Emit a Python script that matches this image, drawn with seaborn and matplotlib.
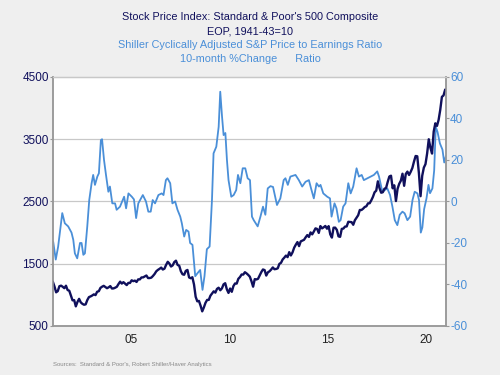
import numpy as np
import pandas as pd
import matplotlib
matplotlib.use('Agg')
import matplotlib.pyplot as plt
import seaborn as sns

# --- Data ---
# S&P 500, end of month, Jul 2001 .. Jun 2021
sp500 = [
    1211, 1134, 1041, 1060, 1139, 1148,
    1130, 1107, 1147, 1077, 1067, 990, 912, 916, 815, 886, 936, 880,
    856, 841, 848, 917, 964, 975, 990, 1008, 996, 1051, 1058, 1112,
    1131, 1145, 1126, 1107, 1121, 1141, 1102, 1104, 1115, 1130, 1174, 1212,
    1181, 1204, 1181, 1157, 1192, 1191, 1234, 1220, 1229, 1207, 1249, 1248,
    1280, 1281, 1295, 1311, 1270, 1270, 1277, 1304, 1336, 1378, 1401, 1418,
    1438, 1407, 1421, 1482, 1531, 1503, 1455, 1474, 1527, 1549, 1481, 1468,
    1379, 1331, 1323, 1386, 1400, 1280, 1267, 1283, 1166, 969, 896, 903,
    826, 735, 798, 873, 919, 919, 987, 1021, 1057, 1036, 1096, 1115,
    1074, 1104, 1169, 1187, 1089, 1031, 1102, 1049, 1141, 1183, 1181, 1258,
    1286, 1327, 1326, 1364, 1345, 1321, 1292, 1219, 1131, 1253, 1247, 1258,
    1312, 1366, 1408, 1398, 1310, 1362, 1379, 1407, 1441, 1412, 1416, 1426,
    1498, 1515, 1569, 1598, 1631, 1606, 1686, 1633, 1682, 1757, 1806, 1848,
    1783, 1859, 1872, 1884, 1924, 1960, 1931, 2003, 1972, 2018, 2068, 2059,
    1995, 2105, 2068, 2086, 2107, 2063, 2104, 1972, 1920, 2079, 2080, 2044,
    1940, 1932, 2060, 2065, 2097, 2099, 2174, 2171, 2168, 2126, 2199, 2239,
    2279, 2364, 2363, 2384, 2412, 2423, 2470, 2472, 2519, 2575, 2648, 2674,
    2824, 2714, 2641, 2648, 2705, 2718, 2816, 2902, 2914, 2712, 2760, 2507,
    2704, 2784, 2834, 2946, 2752, 2942, 2980, 2926, 2977, 3038, 3141, 3231,
    3226, 2954, 2585, 2912, 3044, 3100, 3271, 3500, 3363, 3270, 3622, 3756,
    3714, 3811, 3973, 4181, 4204, 4298,
]

# Shiller CAPE, 10-month % change
cape_years = [
    2001.56, 2001.69, 2001.81, 2002.02, 2002.15, 2002.32, 2002.49, 2002.58,
    2002.66, 2002.78, 2002.92, 2003.00, 2003.09, 2003.17, 2003.29, 2003.39,
    2003.51, 2003.59, 2003.68, 2003.80, 2003.88, 2003.98, 2004.04, 2004.14,
    2004.24, 2004.36, 2004.44, 2004.56, 2004.70, 2004.78, 2004.95, 2005.16,
    2005.26, 2005.38, 2005.55, 2005.66, 2005.77, 2005.88, 2006.11, 2006.27,
    2006.39, 2006.51, 2006.61, 2006.73, 2006.90, 2007.07, 2007.16, 2007.28,
    2007.36, 2007.50, 2007.61, 2007.75, 2007.87, 2008.01, 2008.09, 2008.21,
    2008.31, 2008.43, 2008.51, 2008.63, 2008.77, 2008.89, 2009.02, 2009.14,
    2009.24, 2009.36, 2009.50, 2009.62, 2009.70, 2009.84, 2009.96, 2010.04,
    2010.13, 2010.21, 2010.30, 2010.38, 2010.46, 2010.60, 2010.72, 2010.85,
    2010.94, 2011.06, 2011.18, 2011.31, 2011.43, 2011.55, 2011.65, 2011.74,
    2011.94, 2012.08, 2012.21, 2012.33, 2012.45, 2012.59, 2012.72, 2012.92,
    2013.09, 2013.26, 2013.35, 2013.47, 2013.60, 2013.86, 2014.03, 2014.20,
    2014.37, 2014.54, 2014.65, 2014.79, 2014.93, 2015.05, 2015.13, 2015.27,
    2015.47, 2015.61, 2015.69, 2015.84, 2015.94, 2016.06, 2016.15, 2016.28,
    2016.40, 2016.54, 2016.66, 2016.79, 2016.96, 2017.08, 2017.22, 2017.33,
    2017.51, 2017.67, 2017.84, 2018.01, 2018.10, 2018.27, 2018.52, 2018.66,
    2018.78, 2018.90, 2019.03, 2019.15, 2019.29, 2019.40, 2019.54, 2019.68,
    2019.80, 2019.91, 2020.05, 2020.13, 2020.22, 2020.30, 2020.39, 2020.51,
    2020.61, 2020.69, 2020.81, 2020.90, 2020.98, 2021.07, 2021.19, 2021.32,
    2021.41, 2021.50,
]
cape_chg = [
    -19.4, -28.0, -21.8, -5.6, -10.5, -12.0, -15.0, -18.5,
    -25.0, -27.4, -20.0, -20.0, -25.7, -25.0, -12.0, 0.7,
    8.8, 12.8, 8.0, 12.0, 13.6, 29.6, 30.0, 20.0,
    12.8, 4.7, 7.2, -0.9, -0.9, -4.0, -2.5, 2.3,
    -3.3, 3.9, 2.3, 1.0, -8.0, -0.9, 3.1, 0.0,
    -4.9, -4.9, 0.7, -0.9, 3.1, 3.9, 3.1, 10.3,
    11.2, 8.8, -0.9, 0.0, -4.0, -7.3, -10.5, -16.9,
    -13.7, -14.5, -20.0, -20.9, -36.0, -34.5, -33.0, -42.6,
    -36.0, -23.0, -21.7, 0.7, 23.2, 26.4, 36.0, 52.9,
    41.0, 32.0, 33.0, 20.0, 10.3, 2.3, 3.1, 5.5,
    12.8, 8.8, 16.0, 16.0, 11.2, 10.3, -7.3, -9.0,
    -12.0, -7.3, -2.5, -6.4, 6.3, 7.4, 7.0, -1.7,
    1.5, 10.3, 11.2, 8.0, 12.0, 12.8, 10.3, 7.2,
    9.5, 10.3, 6.3, 1.5, 8.8, 7.2, 8.0, 3.9,
    2.3, 1.5, -7.3, -0.9, -3.3, -9.8, -9.0, -2.5,
    -0.9, 8.8, 3.9, 7.2, 16.0, 12.0, 12.8, 10.3,
    11.2, 12.0, 12.8, 14.5, 12.0, 4.7, 6.3, 3.1,
    -2.5, -9.0, -11.4, -6.4, -4.9, -5.7, -9.0, -7.3,
    0.7, 4.7, 3.9, 0.7, -15.0, -12.5, -3.7, 1.5,
    8.0, 4.0, 6.3, 15.0, 36.0, 33.5, 28.0, 25.0,
    18.8, 22.0,
]

left_ticks = [500, 1500, 2500, 3500, 4500]
right_ticks = [-60, -40, -20, 0, 20, 40, 60]
year_labels = ['05', '10', '15', '20']

NAVY = '#10105c'
LIGHT = '#4a8fd8'
GRID = '#c8c8c8'
SPINE = '#999999'

sns.set_theme(style="white")
plt.rcParams['font.family'] = ['Liberation Sans', 'DejaVu Sans']

sp_df = pd.DataFrame({
    'year': 2001 + (6 + np.arange(len(sp500)) + 0.5) / 12,
    'value': sp500,
})
cape_df = pd.DataFrame({'year': cape_years, 'value': cape_chg})

fig = plt.figure(figsize=(5, 3.75), dpi=100, facecolor='#efefef')
ax2 = fig.add_axes([0.106, 0.1307, 0.786, 0.664])
ax = ax2.twinx()
ax.yaxis.tick_left()
ax2.yaxis.tick_right()
ax2.yaxis.set_label_position('right')
ax.patch.set_visible(False)
ax2.set_facecolor('white')

# light blue ratio change (right axis), drawn underneath
sns.lineplot(data=cape_df, x='year', y='value', ax=ax2, color=LIGHT, linewidth=1.3)
# navy index (left axis) on top
sns.lineplot(data=sp_df, x='year', y='value', ax=ax, color=NAVY, linewidth=1.7)

x0, x1 = 2001.55, 2021.5
ax.set_xlim(x0, x1)
ax2.set_xlim(x0, x1)
ax.set_ylim(500, 4500)
ax2.set_ylim(-60, 60)

# grid at the left-axis levels, expressed on the right axis
grid_vals = [(v - 2500) / 4000 * 120 for v in left_ticks[1:-1]]
for g in grid_vals:
    ax2.axhline(g, color=GRID, linewidth=0.9, zorder=0)

ax.set_yticks(left_ticks)
ax.set_yticklabels([str(t) for t in left_ticks])
ax2.set_yticks(right_ticks)
ax2.set_yticklabels([str(t) for t in right_ticks])

ax2.set_xticks([2005.5, 2010.5, 2015.5, 2020.5])
ax2.set_xticklabels(year_labels)
ax2.set_xticks(np.arange(2002, 2022), minor=True)
ax2.tick_params(axis='x', which='major', length=0, pad=6, labelsize=8.5, colors='#222222')
ax2.tick_params(axis='x', which='minor', length=4, width=0.8, color=SPINE, direction='out')
ax.tick_params(axis='x', which='both', bottom=False, labelbottom=False)

ax.tick_params(axis='y', which='major', length=2.5, width=0.8, color=SPINE,
               direction='out', labelsize=8.5, labelcolor=NAVY, pad=0.5)
ax2.tick_params(axis='y', which='major', length=2.5, width=0.8, color=SPINE,
                direction='out', labelsize=8.5, labelcolor=LIGHT, pad=0.5)

for a in (ax, ax2):
    a.set_xlabel('')
    a.set_ylabel('')
    for side in ('left', 'right', 'bottom'):
        a.spines[side].set_color(SPINE)
        a.spines[side].set_linewidth(1.1)
    a.spines['top'].set_color(GRID)
    a.spines['top'].set_linewidth(0.9)

fig.text(0.5, 0.955, "Stock Price Index: Standard & Poor's 500 Composite",
         ha='center', va='center', fontsize=7.8, color=NAVY)
fig.text(0.5, 0.917, "EOP, 1941-43=10", ha='center', va='center', fontsize=7.8, color=NAVY)
fig.text(0.5, 0.880, "Shiller Cyclically Adjusted S&P Price to Earnings Ratio",
         ha='center', va='center', fontsize=7.8, color=LIGHT)
fig.text(0.5, 0.843, "10-month %Change      Ratio", ha='center', va='center',
         fontsize=7.8, color=LIGHT)
fig.text(0.106, 0.027, "Sources:  Standard & Poor's, Robert Shiller/Haver Analytics",
         ha='left', va='center', fontsize=4.3, color='#888888')

fig.savefig('out.png', dpi=100, facecolor=fig.get_facecolor())
plt.close(fig)
